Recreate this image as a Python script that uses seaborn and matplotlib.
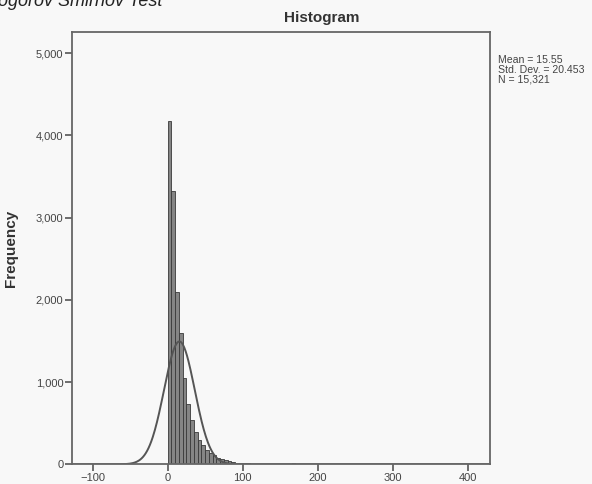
import numpy as np
import pandas as pd
import matplotlib
matplotlib.use("Agg")
import matplotlib.pyplot as plt
import seaborn as sns

# ---- data ----
bin_left_edges = [0, 5, 10, 15, 20, 25, 30, 35, 40, 45, 50, 55, 60, 65, 70,
                  75, 80, 85, 90, 95, 100, 105, 110, 115, 120, 125, 130, 165]
frequencies = [4175, 3320, 2100, 1595, 1045, 732, 537, 394, 301, 232, 171, 142,
               110, 81, 61, 49, 41, 28, 20, 16, 13, 10, 9, 8, 7, 6, 5, 20]
bin_width = 5
mean_val = 15.55
std_val = 20.453
n_val = 15321

sns.set_theme(style="white")
plt.rcParams['font.family'] = ['Liberation Sans', 'DejaVu Sans']

bg = '#f8f8f8'
fig = plt.figure(figsize=(5.92, 4.84), dpi=100, facecolor=bg)
ax = fig.add_axes([71.7 / 592, 1 - 464.3 / 484, (490.3 - 71.7) / 592, (464.3 - 32.3) / 484])
ax.set_facecolor(bg)

df = pd.DataFrame({"value": [e + bin_width / 2 for e in bin_left_edges],
                   "freq": frequencies})
sns.histplot(data=df, x="value", weights="freq", binwidth=bin_width, binrange=(0, 170),
             ax=ax, color='#858585', edgecolor='#3a3a3a', linewidth=0.6, alpha=1.0)

# fitted normal curve from the stated mean / std / N
xs = np.linspace(-128, 430, 600)
ys = n_val * bin_width / (std_val * np.sqrt(2 * np.pi)) * np.exp(-0.5 * ((xs - mean_val) / std_val) ** 2)
sns.lineplot(x=xs, y=ys, ax=ax, color='#555555', linewidth=1.4)

ax.set_xlim(-128, 430)
ax.set_ylim(0, 5255)
ax.set_xticks([-100, 0, 100, 200, 300, 400])
ax.set_yticks([0, 1000, 2000, 3000, 4000, 5000])
ax.set_yticklabels(['0', '1,000', '2,000', '3,000', '4,000', '5,000'])
ax.tick_params(axis='both', direction='out', length=5, width=1.2, color='#555555',
               labelsize=8, labelcolor='#444444', pad=1)
ax.tick_params(axis='x', bottom=True)
ax.tick_params(axis='y', left=True)
for s in ax.spines.values():
    s.set_color('#666666')
    s.set_linewidth(1.3)

ax.set_xlabel('')
ax.set_ylabel('Frequency', fontsize=11, fontweight='bold', color='#333333')
ax.yaxis.set_label_coords((18 - 71.7) / 418.6, 0.5)

fig.text(322 / 592, 1 - 18 / 484, 'Histogram', ha='center', va='center',
         fontsize=11, fontweight='bold', color='#333333')

fig.text(498 / 592, 1 - 70 / 484, 'Mean = 15.55\nStd. Dev. = 20.453\nN = 15,321',
         ha='left', va='center', fontsize=7.6, color='#444444', linespacing=0.98)

fig.text(162 / 592, 1 - 6 / 484, 'Kolmogorov Smirnov Test', ha='right', va='baseline',
         fontsize=13, style='italic', color='#222222')

fig.savefig('out.png', dpi=100, facecolor=bg)
